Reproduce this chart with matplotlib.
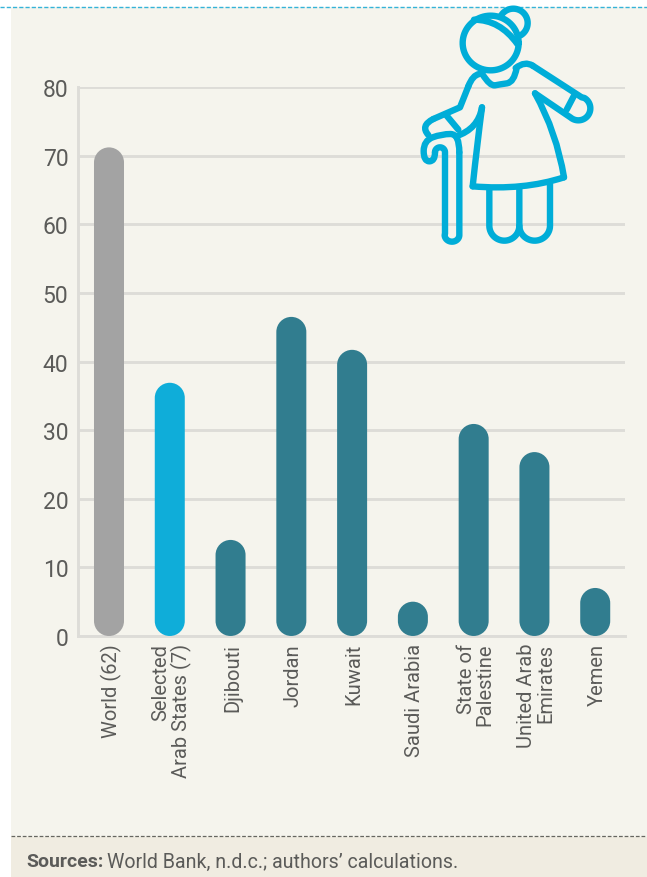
import numpy as np
import matplotlib
matplotlib.use("Agg")
import matplotlib.pyplot as plt
from matplotlib.patches import PathPatch, Rectangle
from matplotlib.path import Path
from matplotlib.transforms import ScaledTranslation

plt.rcParams['font.family'] = ['Roboto', 'DejaVu Sans']

categories = ["World (62)", "Selected\nArab States (7)", "Djibouti", "Jordan", "Kuwait",
              "Saudi Arabia", "State of\nPalestine", "United Arab\nEmirates", "Yemen"]
values = [71.2, 36.9, 14.0, 46.5, 41.7, 5.0, 30.9, 26.8, 7.0]
colors = ["#a3a3a3", "#0fadd9"] + ["#317d8f"] * 7
yticks = [0, 10, 20, 30, 40, 50, 60, 70, 80]
source_bold = "Sources:"
source_text = "World Bank, n.d.c.; authors\u2019 calculations."

W, H = 647, 878
TEXT = "#5b5b59"
ICON = "#00add8"
GRID = "#dddcd8"

fig = plt.figure(figsize=(W / 100, H / 100), dpi=100, facecolor="white")

# background panels, in pixel coordinates
bg = fig.add_axes([0, 0, 1, 1])
bg.set_xlim(0, W)
bg.set_ylim(H, 0)
bg.axis("off")
bg.add_patch(Rectangle((11, 8), W - 11, 830, fc="#f5f4ed", ec="none"))
bg.add_patch(Rectangle((11, 838), W - 11, 40, fc="#f0ece1", ec="none"))
bg.plot([0, W], [8, 8], color="#35b3d8", lw=1, ls=(0, (3, 1.5)))
bg.plot([11, W], [837.5, 837.5], color="#666660", lw=0.9, ls=(0, (3, 1.5)))
t = bg.text(26, 862, source_bold, fontsize=14, fontweight="bold", color=TEXT, va="center")
fig.canvas.draw()
bb = t.get_window_extent()
bg.text(bb.x1 + 4, 862, source_text, fontsize=14.1, color=TEXT, va="center")

# chart
left, right, top, bottom = 78, 625, 88, 637
ax = fig.add_axes([left / W, 1 - bottom / H, (right - left) / W, (bottom - top) / H])
ax.patch.set_visible(False)
ax.set_ylim(0, 80)
ax.set_xlim(-0.51, 8.49)
ax.set_yticks(yticks)
ax.set_xticks(range(len(categories)))
ax.set_xticklabels(categories, rotation=90, ha="center", va="top", multialignment="right",
                   linespacing=1.0)
ax.tick_params(axis="both", length=0, labelcolor=TEXT)
ax.tick_params(axis="x", pad=5, labelsize=14.5)
ax.tick_params(axis="y", pad=7, labelsize=16.5)
shift = ScaledTranslation(2 / 100, 0, fig.dpi_scale_trans)
for lab in ax.get_xticklabels():
    lab.set_transform(lab.get_transform() + shift)
ax.grid(axis="y", color=GRID, lw=2.1)
ax.set_axisbelow(True)
for s in ["top", "right"]:
    ax.spines[s].set_visible(False)
for s in ["left", "bottom"]:
    ax.spines[s].set_color(GRID)
    ax.spines[s].set_linewidth(2.1)

# rounded bars, 30 px wide with half-circle ends
px_x = (right - left) / 9.0
px_y = (bottom - top) / 80.0
rx = 15 / px_x
ry = 15 / px_y
K = 0.5523


def pill(x, v):
    l, r = x - rx, x + rx
    verts = [(l, ry),
             (l, ry - K * ry), (x - K * rx, 0), (x, 0),
             (x + K * rx, 0), (r, ry - K * ry), (r, ry),
             (r, v - ry),
             (r, v - ry + K * ry), (x + K * rx, v), (x, v),
             (x - K * rx, v), (l, v - ry + K * ry), (l, v - ry),
             (l, ry)]
    codes = [Path.MOVETO] + [Path.CURVE4] * 6 + [Path.LINETO] + [Path.CURVE4] * 6 + [Path.CLOSEPOLY]
    return Path(verts, codes)


for i, (v, c) in enumerate(zip(values, colors)):
    ax.add_patch(PathPatch(pill(i, v), fc=c, ec="none", zorder=3))

ic = fig.add_axes([0, 0, 1, 1])
ic.set_xlim(0, W)
ic.set_ylim(H, 0)
ic.axis("off")
LW = 4.6


def stroke(pts):
    pts = np.array(pts, dtype=float)
    ic.plot(400 + pts[:, 0] / 3, pts[:, 1] / 3, color=ICON, lw=LW,
            solid_capstyle="round", solid_joinstyle="round", zorder=5)


def curve(pts):
    # smooth line: the inner points act as quadratic control points
    pts = np.array(pts, dtype=float)
    pts = np.column_stack([400 + pts[:, 0] / 3, pts[:, 1] / 3])
    verts = [pts[0]]
    codes = [Path.MOVETO]
    for j in range(1, len(pts) - 1):
        end = pts[j + 1] if j == len(pts) - 2 else (pts[j] + pts[j + 1]) / 2
        verts += [pts[j], end]
        codes += [Path.CURVE3, Path.CURVE3]
    ic.add_patch(PathPatch(Path(verts, codes), fc="none", ec=ICON, lw=LW,
                           capstyle="round", joinstyle="round", zorder=5))


def arc(cx, cy, rx, ry, a0, a1, n=40):
    a = np.radians(np.linspace(a0, a1, n))
    return np.column_stack([cx + rx * np.cos(a), cy + ry * np.sin(a)]).tolist()


# head and bun
stroke(arc(272, 132, 84, 82, 0, 360, 80))
curve([(222, 62), (300, 62), (352, 135)])
stroke(arc(340, 72, 43, 43, -150, 60))
# collar
curve([(247, 225), (270, 262), (300, 256), (342, 250), (350, 207)])
# far arm
curve([(347, 207), (375, 185), (398, 200)])
stroke([(398, 200), (545, 295)] + arc(535, 328, 36, 36, -60, 130) + [(405, 283)])
stroke([(522, 290), (500, 332)])
# dress
curve([(405, 283), (470, 400), (492, 535)])
curve([(492, 535), (370, 575), (218, 562)])
curve([(218, 562), (232, 430), (246, 325)])
# near arm and hand
curve([(238, 225), (218, 228), (205, 262)])
stroke([(205, 262), (180, 325), (100, 360)])
curve([(100, 360), (60, 380), (85, 408)])
stroke([(140, 350), (175, 392)])
curve([(168, 412), (235, 390), (246, 325)])
# legs
stroke([(268, 570), (268, 680)] + arc(313, 680, 45, 45, 180, 0) + [(358, 568)])
stroke([(358, 680)] + arc(404, 680, 46, 45, 180, 0) + [(450, 555)])
# cane
stroke([(135, 705), (135, 462)] + arc(120, 460, 15, 15, 0, -180))
curve([(105, 460), (105, 487), (71, 487), (71, 425), (125, 405), (178, 405), (178, 460)])
stroke([(178, 460), (178, 705)] + arc(156, 708, 22, 20, 0, 180))

fig.savefig("out.png", dpi=100, facecolor="white")
